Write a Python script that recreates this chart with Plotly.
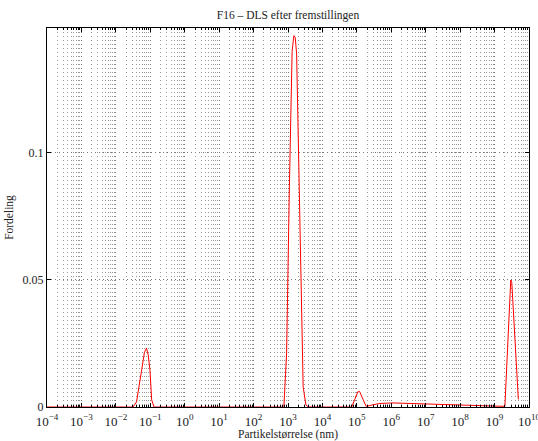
import plotly.graph_objects as go

# Particle size (log10 of nm) and distribution values
log_size = [-4.0, -1.50, -1.40, -1.32, -1.25, -1.17, -1.11, -1.06, -1.01, -0.96, -0.89,
            2.88, 2.96, 3.04, 3.12, 3.17, 3.21, 3.25, 3.35, 3.44, 3.52, 3.59,
            4.85, 4.95, 5.03, 5.08, 5.15, 5.27, 5.44, 5.67, 6.05, 6.83, 7.70, 8.58, 9.16,
            9.30, 9.39, 9.47, 9.50, 9.58, 9.69]
fordeling = [0.0, 0.0, 0.0020, 0.0080, 0.0146, 0.0215, 0.0232, 0.0205, 0.0146, 0.0028, 0.0,
             0.0, 0.0213, 0.0867, 0.1400, 0.1462, 0.1455, 0.1390, 0.0736, 0.0080, 0.0008, 0.0,
             0.0, 0.0030, 0.0060, 0.0061, 0.0040, 0.0002, 0.0008, 0.0014, 0.0016, 0.0012, 0.0008, 0.0005, 0.0003,
             0.0003, 0.0250, 0.0500, 0.0490, 0.0280, 0.0030]

x_exponents = list(range(-4, 11))
y_ticks = [0, 0.05, 0.1]
y_ticklabels = ["0", "0.05", "0.1"]

size_nm = [10 ** v for v in log_size]
x_tickvals = [10.0 ** e for e in x_exponents]
x_ticktext = ["10<sup>" + str(e).replace("-", "−") + "</sup>" for e in x_exponents]
minor_vals = [m * 10.0 ** e for e in x_exponents[:-1] for m in range(2, 10)]

FONT = "Liberation Serif"
TXT = "#222"
fig = go.Figure()
fig.add_trace(go.Scatter(x=size_nm, y=fordeling, mode="lines",
                         line=dict(color="#ff0000", width=1), showlegend=False))

fig.update_layout(
    width=538, height=441,
    margin=dict(l=47, r=9, t=28, b=34),
    paper_bgcolor="white", plot_bgcolor="white",
    font=dict(family=FONT, size=11, color=TXT),
    title=dict(text="F16 – DLS efter fremstillingen", x=0.5, xref="paper",
               y=1 - 15 / 441, yanchor="middle", font=dict(family=FONT, size=11.5, color=TXT)),
)
fig.update_xaxes(
    type="log", range=[-4, 10],
    tickmode="array", tickvals=x_tickvals, ticktext=x_ticktext,
    ticks="inside", ticklen=4, tickcolor="black",
    showline=True, linecolor="black", linewidth=1, mirror="ticks",
    showgrid=True, gridcolor="#777", gridwidth=1, griddash="1px,3px",
    zeroline=False, automargin=False, ticklabeloverflow="allow",
    ticklabelstandoff=2,
    tickfont=dict(family=FONT, size=13, color=TXT),
    title=dict(text="Partikelstørrelse (nm)", standoff=0, font=dict(family=FONT, size=11.5, color=TXT)),
    minor=dict(tickmode="array", tickvals=minor_vals, ticks="inside", ticklen=2,
               tickcolor="black", showgrid=True, gridcolor="#999", gridwidth=1, griddash="1px,3px"),
)
fig.update_yaxes(
    range=[0, 0.1492],
    tickmode="array", tickvals=y_ticks, ticktext=y_ticklabels,
    ticks="inside", ticklen=4, tickcolor="black",
    showline=True, linecolor="black", linewidth=1, mirror="ticks",
    showgrid=True, gridcolor="#777", gridwidth=1, griddash="1px,3px",
    zeroline=False, automargin=False,
    tickfont=dict(family=FONT, size=12, color=TXT),
    title=dict(text="Fordeling", standoff=6, font=dict(family=FONT, size=11.5, color=TXT)),
)

fig.write_html("out.html")
